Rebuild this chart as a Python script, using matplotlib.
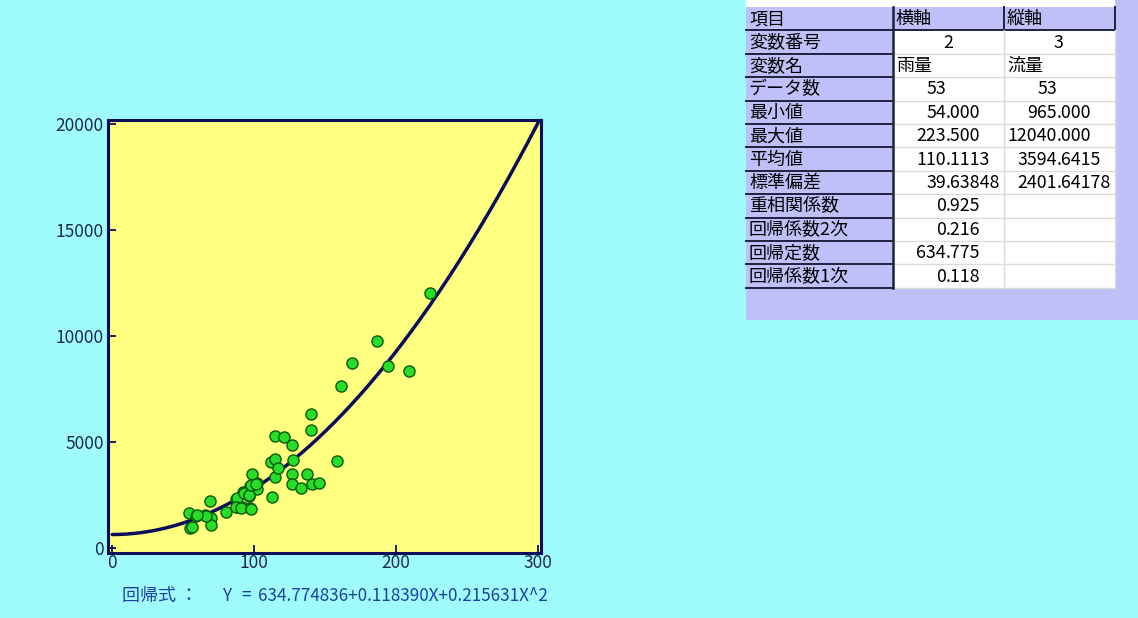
import matplotlib
matplotlib.use("Agg")
import matplotlib.pyplot as plt
import numpy as np
from matplotlib.patches import Rectangle

plt.rcParams["font.family"] = ["Noto Sans CJK JP", "DejaVu Sans"]

# ------------------------------------------------------------
# Data: rainfall (x) vs. flow (y), 53 observations
# ------------------------------------------------------------
rain = [
    54.0, 59.0, 55.0, 56.5, 65.4, 69.6, 69.6, 68.9, 80.1, 87.5,
    87.8, 91.4, 92.1, 96.3, 97.3, 97.0, 101.9, 102.1, 98.7, 112.6,
    114.5, 111.7, 114.5, 116.7, 114.5, 121.1, 126.7, 127.4, 126.5, 126.5,
    132.8, 137.0, 140.2, 140.2, 140.9, 145.7, 158.1, 160.9, 168.7, 186.7,
    194.2, 208.7, 223.5,
    88.0, 92.5, 96.0, 97.5, 87.0, 91.0, 98.0, 101.5, 66.0, 60.0,
]
flow = [
    1655, 1513, 965, 1000, 1537, 1418, 1064, 2222, 1702, 2317,
    1938, 1915, 2662, 2459, 1891, 2931, 3059, 2775, 3499, 2411,
    3357, 4066, 4184, 3768, 5295, 5234, 4856, 4161, 3499, 3012,
    2823, 3499, 6321, 5579, 3012, 3059, 4113, 7626, 8733, 9787,
    8572, 8369, 12040,
    2350, 2600, 2500, 2950, 1950, 1900, 1850, 3000, 1500, 1550,
]

# quadratic regression: Y = B0 + B1*X + B2*X^2
B0, B1, B2 = 634.774836, 0.118390, 0.215631

x_ticks = [0, 100, 200, 300]
y_ticks = [0, 5000, 10000, 15000, 20000]

# summary table
row_labels = ["項目", "変数番号", "変数名", "データ数", "最小値", "最大値", "平均値",
              "標準偏差", "重相関係数", "回帰係数2次", "回帰定数", "回帰係数1次"]
col_x = ["横軸", "2", "雨量", "53", "54.000", "223.500", "110.1113", "39.63848",
         "0.925", "0.216", "634.775", "0.118"]
col_y = ["縦軸", "3", "流量", "53", "965.000", "12040.000", "3594.6415", "2401.64178",
         "", "", "", ""]

# ------------------------------------------------------------
# Colours
# ------------------------------------------------------------
BG = "#a0fcfc"
PLOT_BG = "#ffff80"
NAVY = "#0c0c5c"
TICK_TXT = "#1c2850"
FORMULA_TXT = "#2040a0"
LAVENDER = "#c0c0f8"

W, H = 1138, 618
fig = plt.figure(figsize=(W / 100, H / 100), dpi=100, facecolor=BG)

# ------------------------------------------------------------
# Scatter plot with regression curve
# ------------------------------------------------------------
ax = fig.add_axes([108 / W, (H - 553) / H, (541 - 108) / W, (553 - 120) / H])
ax.set_facecolor(PLOT_BG)

xs = np.linspace(0, 300, 301)
ax.plot(xs, B0 + B1 * xs + B2 * xs ** 2, color=NAVY, lw=2.5, zorder=2,
        solid_capstyle="round")
ax.scatter(rain, flow, s=64, color="#28dc28", edgecolor="#0a5a0a",
           linewidth=1.0, zorder=3)

ax.set_xlim(-3, 302)
ax.set_ylim(-236, 20200)
ax.set_xticks(x_ticks)
ax.set_yticks(y_ticks)
ax.tick_params(direction="in", length=6, width=1.3, color=NAVY,
               labelcolor=TICK_TXT, labelsize=12.5)
ax.tick_params(axis="x", pad=1)
ax.tick_params(axis="y", pad=3)
for sp in ax.spines.values():
    sp.set_color(NAVY)
    sp.set_linewidth(2.2)

# regression equation under the plot
fy = 1 - 596 / H
fig.text(122 / W, fy, "回帰式 ：", color=FORMULA_TXT, fontsize=13,
         ha="left", va="center")
fig.text(227 / W, fy, "Y", color=FORMULA_TXT, fontsize=12.5,
         ha="center", va="center")
fig.text(246 / W, fy, "=", color=FORMULA_TXT, fontsize=12.5,
         ha="center", va="center")
fig.text(258 / W, fy, f"{B0:.6f}+{B1:.6f}X+{B2:.6f}X^2",
         color=FORMULA_TXT, fontsize=12.3, ha="left", va="center")

# ------------------------------------------------------------
# Summary table, drawn in pixel coordinates
# ------------------------------------------------------------
tab = fig.add_axes([0, 0, 1, 1], facecolor="none")
tab.set_xlim(0, W)
tab.set_ylim(H, 0)
tab.axis("off")

x0, x1, x2, x3 = 746, 893, 1004, 1115
top, row_h = 7, 23.4
n_rows = len(row_labels)
bottom = top + n_rows * row_h

tab.add_patch(Rectangle((x0, 0), W - x0, 320, color=LAVENDER, lw=0))
tab.add_patch(Rectangle((x0, 0), x3 - x0, top, color="white", lw=0))

# decimal point positions for the value columns
dec_x = {1: 946, 2: 1057}
center_x = {1: 948, 2: 1058}
FS = 12.8

for i in range(n_rows):
    y = top + i * row_h
    yc = y + row_h / 2 + 0.5
    header = i == 0

    # label cell
    tab.add_patch(Rectangle((x0, y), x1 - x0, row_h, facecolor=LAVENDER,
                            edgecolor="none"))
    tab.plot([x0, x1], [y + row_h, y + row_h], color="#202040", lw=1.4)
    tab.text(x0 + 3, yc, row_labels[i], fontsize=13,
             ha="left", va="center", color="black")

    for j, (cx0, cx1, txt) in enumerate([(x1, x2, col_x[i]), (x2, x3, col_y[i])],
                                        start=1):
        tab.add_patch(Rectangle((cx0, y), cx1 - cx0, row_h,
                                facecolor=LAVENDER if header else "white",
                                edgecolor="none"))
        if header:
            tab.plot([cx0, cx1], [y + row_h, y + row_h], color="#202040", lw=1.4)
            tab.plot([cx1, cx1], [y, y + row_h], color="#202040", lw=1.4)
        else:
            tab.plot([cx0, cx1], [y + row_h, y + row_h], color="#dcdcdc", lw=1.0)
            tab.plot([cx1, cx1], [y, y + row_h], color="#dcdcdc", lw=1.0)
        if not txt:
            continue
        if header or not txt[0].isdigit():
            tab.text(cx0 + 3, yc, txt, fontsize=13, ha="left", va="center")
        elif i == 1:
            tab.text(center_x[j], yc, txt, fontsize=FS, ha="center", va="center")
        else:
            whole, _, frac = txt.partition(".")
            tab.text(dec_x[j], yc, whole, fontsize=FS, ha="right", va="center")
            if frac:
                tab.text(dec_x[j], yc, "." + frac, fontsize=FS, ha="left",
                         va="center")

tab.plot([x1, x1], [top, bottom], color="#202040", lw=1.8)

fig.savefig("out.png", dpi=100, facecolor=BG)
